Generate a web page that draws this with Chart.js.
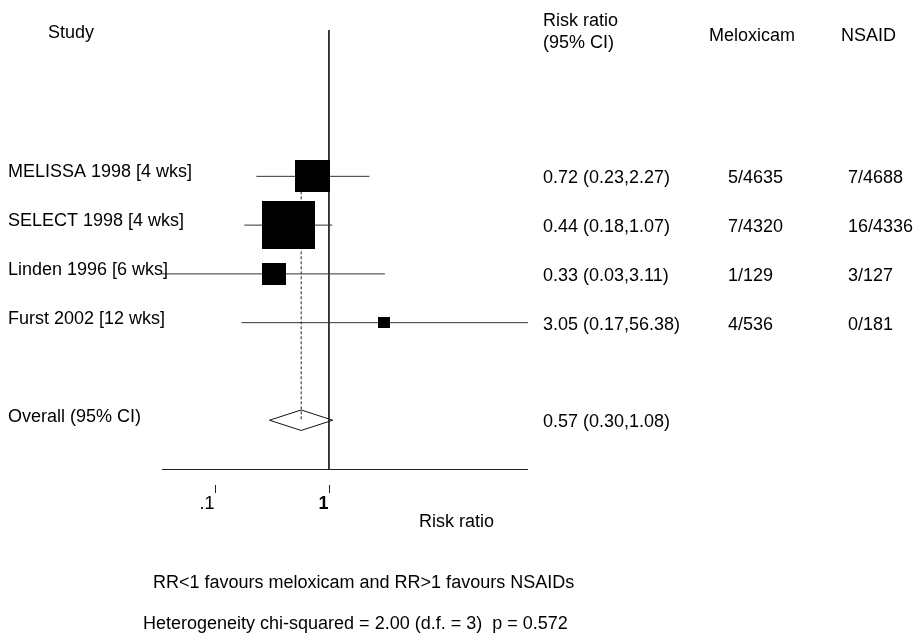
<!DOCTYPE html>
<html lang="en">
  <head>
    <meta charset="UTF-8" />
    <title>Meloxicam vs NSAID - Risk ratio</title>
    <style>
      html,
      body {
        margin: 0;
        padding: 0;
        background: #ffffff;
      }
      #wrap {
        width: 916px;
        height: 644px;
      }
    </style>
  </head>
  <body>
    <div id="wrap">
      <canvas id="forest" width="916" height="644"></canvas>
    </div>

    <script src="https://cdn.jsdelivr.net/npm/chart.js"></script>
    <script>
      // Study data
      const studies = [
        "MELISSA 1998 [4 wks]",
        "SELECT 1998 [4 wks]",
        "Linden 1996 [6 wks]",
        "Furst 2002 [12 wks]",
      ];
      const riskRatio = [0.72, 0.44, 0.33, 3.05];
      const ciLow = [0.23, 0.18, 0.03, 0.17];
      const ciHigh = [2.27, 1.07, 3.11, 56.38];
      const meloxicamEvents = ["5/4635", "7/4320", "1/129", "4/536"];
      const nsaidEvents = ["7/4688", "16/4336", "3/127", "0/181"];
      const weights = [25.6, 59.4, 11.9, 3.1]; // % weight, sets box area

      // Pooled estimate
      const overallLabel = "Overall (95% CI)";
      const overallRR = 0.57;
      const overallLow = 0.3;
      const overallHigh = 1.08;

      // Axis ticks
      const tickValues = [0.1, 1];
      const tickLabels = [".1", "1"];

      const FONT = "18px 'Liberation Sans', Arial, sans-serif";
      const COL_RR = 543;
      const COL_MELOX = 728;
      const COL_NSAID = 848;
      const overallRow = studies.length + 1;
      const fmt = (v) => v.toFixed(2);

      // Box markers: area proportional to weight, a bit wider than tall
      const boxes = weights.map((w) => {
        const area = 42.8 * w;
        const c = document.createElement("canvas");
        c.width = Math.round(Math.sqrt(area * 1.1));
        c.height = Math.round(Math.sqrt(area / 1.1));
        const g = c.getContext("2d");
        g.fillStyle = "#000";
        g.fillRect(0, 0, c.width, c.height);
        return c;
      });

      // CI segments, separated by nulls
      const ciData = [];
      studies.forEach((s, i) => {
        ciData.push({ x: ciLow[i], y: i }, { x: ciHigh[i], y: i }, { x: null, y: null });
      });

      // Diamond for the pooled estimate
      const DIAMOND_HALF = 0.21;
      const diamond = [
        { x: overallLow, y: overallRow },
        { x: overallRR, y: overallRow - DIAMOND_HALF },
        { x: overallHigh, y: overallRow },
        { x: overallRR, y: overallRow + DIAMOND_HALF },
        { x: overallLow, y: overallRow },
      ];

      // Text columns, tick marks and axis line
      const forestText = {
        id: "forestText",
        afterDraw(chart) {
          const { ctx, chartArea, scales } = chart;
          const yPx = (r) => scales.y.getPixelForValue(r);
          ctx.save();
          ctx.fillStyle = "#000";
          ctx.font = FONT;
          ctx.textBaseline = "alphabetic";

          // axis line
          ctx.strokeStyle = "#222";
          ctx.lineWidth = 1;
          ctx.beginPath();
          ctx.moveTo(chartArea.left, Math.round(chartArea.bottom) + 0.5);
          ctx.lineTo(chartArea.right, Math.round(chartArea.bottom) + 0.5);
          ctx.stroke();

          // ticks and labels
          tickValues.forEach((v, i) => {
            const px = Math.round(scales.x.getPixelForValue(v)) + 0.5;
            ctx.beginPath();
            ctx.moveTo(px, chartArea.bottom + 16);
            ctx.lineTo(px, chartArea.bottom + 24);
            ctx.stroke();
            ctx.textAlign = "right";
            ctx.font = v === 1 ? "bold " + FONT : FONT;
            ctx.fillText(tickLabels[i], px - 1, chartArea.bottom + 40);
          });
          ctx.font = FONT;
          ctx.textAlign = "left";
          ctx.fillText("Risk ratio", 419, chartArea.bottom + 58);

          // header
          ctx.fillText("Study", 48, 38);
          ctx.fillText("Risk ratio", COL_RR, 26);
          ctx.fillText("(95% CI)", COL_RR, 48);
          ctx.fillText("Meloxicam", 709, 41);
          ctx.fillText("NSAID", 841, 41);

          // study rows
          studies.forEach((s, i) => {
            const y = yPx(i);
            ctx.fillText(s, 8, y + 1);
            ctx.fillText(
              `${fmt(riskRatio[i])} (${fmt(ciLow[i])},${fmt(ciHigh[i])})`,
              COL_RR,
              y + 7
            );
            ctx.fillText(meloxicamEvents[i], COL_MELOX, y + 7);
            ctx.fillText(nsaidEvents[i], COL_NSAID, y + 7);
          });

          // pooled row
          const yo = yPx(overallRow);
          ctx.fillText(overallLabel, 8, yo + 1.5);
          ctx.fillText(
            `${fmt(overallRR)} (${fmt(overallLow)},${fmt(overallHigh)})`,
            COL_RR,
            yo + 6.5
          );

          // footnotes
          ctx.fillText("RR<1 favours meloxicam and RR>1 favours NSAIDs", 153, 588);
          ctx.fillText(
            "Heterogeneity chi-squared = 2.00 (d.f. = 3)  p = 0.572",
            143,
            629
          );
          ctx.restore();
        },
      };

      new Chart(document.getElementById("forest"), {
        type: "scatter",
        data: {
          datasets: [
            {
              label: "Risk ratio",
              data: riskRatio.map((v, i) => ({ x: v, y: i })),
              pointStyle: (c) => boxes[c.dataIndex],
              pointRadius: 5,
              showLine: false,
            },
            {
              label: "95% CI",
              data: ciData,
              showLine: true,
              spanGaps: false,
              borderColor: "#333",
              borderWidth: 1,
              pointRadius: 0,
            },
            {
              label: "Overall estimate",
              data: [
                { x: overallRR, y: 0 },
                { x: overallRR, y: overallRow },
              ],
              showLine: true,
              borderColor: "#222",
              borderWidth: 1,
              borderDash: [3, 2],
              pointRadius: 0,
            },
            {
              label: "No effect",
              data: [
                { x: 1, y: -3 },
                { x: 1, y: 6 },
              ],
              showLine: true,
              borderColor: "#222",
              borderWidth: 1,
              pointRadius: 0,
              clip: false,
            },
            {
              label: "Overall",
              data: diamond,
              showLine: true,
              borderColor: "#111",
              borderWidth: 1,
              pointRadius: 0,
              fill: false,
              tension: 0,
            },
          ],
        },
        options: {
          responsive: false,
          animation: false,
          devicePixelRatio: 1,
          layout: {
            padding: { left: 162, right: 388, top: 30, bottom: 175 },
          },
          scales: {
            x: { type: "logarithmic", min: 0.034, max: 56.38, display: false },
            y: { type: "linear", min: -3, max: 6, reverse: true, display: false },
          },
          plugins: {
            legend: { display: false },
            tooltip: { enabled: false },
          },
        },
        plugins: [forestText],
      });
    </script>
  </body>
</html>
